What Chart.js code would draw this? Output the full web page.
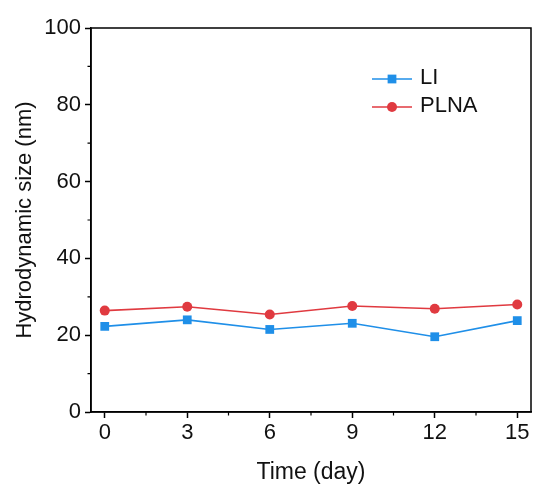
<!DOCTYPE html>
<html>
<head>
<meta charset="utf-8">
<script src="https://cdn.jsdelivr.net/npm/chart.js@4/dist/chart.umd.min.js"></script>
<style>
  html, body { margin: 0; padding: 0; background: #fff; }
  #wrap { width: 533px; height: 487px; }
</style>
</head>
<body>
<div id="wrap"><canvas id="c" width="533" height="487"></canvas></div>
<script>
// Storage time points (days)
const days = [0, 3, 6, 9, 12, 15];
// Hydrodynamic size (nm)
const liSize   = [22.3, 24.0, 21.5, 23.1, 19.6, 23.8];
const plnaSize = [26.4, 27.4, 25.4, 27.6, 26.9, 28.0];
// Axis ticks
const xMajorTicks = [0, 3, 6, 9, 12, 15];
const xMinorTicks = [1.5, 4.5, 7.5, 10.5, 13.5];
const yMajorTicks = [0, 20, 40, 60, 80, 100];
const yMinorTicks = [10, 30, 50, 70, 90];

const FONT = "'Liberation Sans', Arial, sans-serif";
const BLUE = '#1f8fe8';
const RED = '#e03a40';

const toPoints = (xs, ys) => xs.map((x, i) => ({ x: x, y: ys[i] }));

// Frame around the plot area, short minor ticks, and the inset legend
const framePlugin = {
  id: 'frame',
  afterDraw(chart) {
    const { ctx, chartArea: a, scales } = chart;
    ctx.save();
    ctx.strokeStyle = '#000';
    ctx.lineWidth = 1.5;
    ctx.strokeRect(a.left, a.top, a.right - a.left, a.bottom - a.top);

    ctx.lineWidth = 1.2;
    ctx.beginPath();
    xMinorTicks.forEach(v => {
      const px = scales.x.getPixelForValue(v);
      ctx.moveTo(px, a.bottom);
      ctx.lineTo(px, a.bottom + 3.5);
    });
    yMinorTicks.forEach(v => {
      const py = scales.y.getPixelForValue(v);
      ctx.moveTo(a.left, py);
      ctx.lineTo(a.left - 3.5, py);
    });
    ctx.stroke();

    // legend
    const lx = a.left + 281, ly = a.top + 51, gap = 28;
    chart.data.datasets.forEach((ds, i) => {
      const y = ly + i * gap;
      ctx.strokeStyle = ds.borderColor;
      ctx.lineWidth = ds.borderWidth;
      ctx.beginPath();
      ctx.moveTo(lx, y);
      ctx.lineTo(lx + 40, y);
      ctx.stroke();
      ctx.fillStyle = ds.pointBackgroundColor;
      ctx.strokeStyle = ds.pointBackgroundColor;
      Chart.helpers.drawPoint(ctx, {
        pointStyle: ds.pointStyle, radius: ds.pointRadius, rotation: 0, borderWidth: 0
      }, lx + 20, y);
      ctx.fillStyle = '#111';
      ctx.font = '22px ' + FONT;
      ctx.textBaseline = 'alphabetic';
      ctx.textAlign = 'left';
      ctx.fillText(ds.label, lx + 48, y + 5);
    });
    ctx.restore();
  }
};

new Chart(document.getElementById('c'), {
  type: 'line',
  data: {
    datasets: [
      {
        label: 'LI',
        data: toPoints(days, liSize),
        borderColor: BLUE,
        backgroundColor: BLUE,
        pointBackgroundColor: BLUE,
        pointBorderWidth: 0,
        pointStyle: 'rect',
        pointRadius: 6.2,
        borderWidth: 1.6
      },
      {
        label: 'PLNA',
        data: toPoints(days, plnaSize),
        borderColor: RED,
        backgroundColor: RED,
        pointBackgroundColor: RED,
        pointBorderWidth: 0,
        pointStyle: 'circle',
        pointRadius: 5,
        borderWidth: 1.6
      }
    ]
  },
  options: {
    responsive: false,
    animation: false,
    layout: { autoPadding: false, padding: { left: 0, top: 28, right: 2, bottom: 0 } },
    plugins: {
      legend: { display: false },
      tooltip: { enabled: false }
    },
    scales: {
      x: {
        type: 'linear',
        min: -0.5,
        max: 15.5,
        afterBuildTicks: s => { s.ticks = xMajorTicks.map(v => ({ value: v })); },
        afterFit: s => { s.height = 75; },
        grid: { drawOnChartArea: false, tickLength: 6, tickWidth: 1.5, tickColor: '#000' },
        border: { color: '#000', width: 1.5 },
        ticks: { color: '#111', padding: 2, maxRotation: 0, font: { family: FONT, size: 22 } },
        title: {
          display: true, text: 'Time (day)', color: '#111',
          font: { family: FONT, size: 23, lineHeight: 1.2 },
          padding: { top: 0, bottom: 1 }
        }
      },
      y: {
        min: 0,
        max: 100,
        afterBuildTicks: s => { s.ticks = yMajorTicks.map(v => ({ value: v })); },
        afterFit: s => { s.width = 91; },
        grid: { drawOnChartArea: false, tickLength: 6, tickWidth: 1.5, tickColor: '#000' },
        border: { color: '#000', width: 1.5 },
        ticks: { color: '#111', padding: 4, font: { family: FONT, size: 22 } },
        title: {
          display: true, text: 'Hydrodynamic size (nm)', color: '#111',
          font: { family: FONT, size: 22, lineHeight: 1.2 },
          padding: { top: 12, bottom: 0 }
        }
      }
    }
  },
  plugins: [framePlugin]
});
</script>
</body>
</html>
